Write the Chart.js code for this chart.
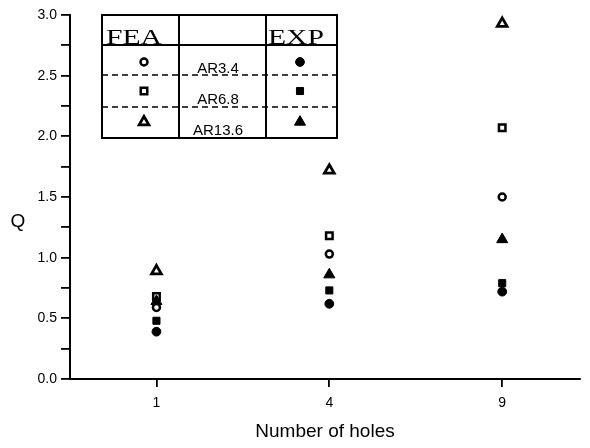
<!DOCTYPE html>
<html>
<head>
<meta charset="utf-8">
<script src="https://cdn.jsdelivr.net/npm/chart.js@4/dist/chart.umd.min.js"></script>
<style>
  html, body { margin: 0; padding: 0; background: #fff; }
  #wrap { width: 590px; height: 448px; }
</style>
</head>
<body>
<div id="wrap"><canvas id="chart" width="590" height="448"></canvas></div>
<script>
// 数据
const holeLabels = ['1', '4', '9'];
const holePos = [1, 2, 3];
const feaAR34 = [0.59, 1.03, 1.50];
const feaAR68 = [0.68, 1.18, 2.07];
const feaAR136 = [0.89, 1.72, 2.93];
const expAR34 = [0.39, 0.62, 0.72];
const expAR68 = [0.48, 0.73, 0.79];
const expAR136 = [0.64, 0.86, 1.15];
const yTicks = ['0.0', '0.5', '1.0', '1.5', '2.0', '2.5', '3.0'];
const legendRows = ['AR3.4', 'AR6.8', 'AR13.6'];

function pts(vals) {
    return vals.map((v, i) => ({ x: holePos[i], y: v }));
}

const sans = '"Liberation Sans", Arial, sans-serif';

// 标记样式
const markFEA34 = { pointStyle: 'circle', pointRadius: 3.5, backgroundColor: '#fff', borderColor: '#000', borderWidth: 2.5 };
const markFEA68 = { pointStyle: 'rect', pointRadius: 4.6, backgroundColor: '#fff', borderColor: '#000', borderWidth: 2.5 };
const markFEA136 = { pointStyle: 'triangle', pointRadius: 5.6, backgroundColor: '#fff', borderColor: '#000', borderWidth: 2.8 };
const markEXP34 = { pointStyle: 'circle', pointRadius: 4.4, backgroundColor: '#000', borderColor: '#000', borderWidth: 1 };
const markEXP68 = { pointStyle: 'rect', pointRadius: 5, backgroundColor: '#000', borderColor: '#000', borderWidth: 1 };
const markEXP136 = { pointStyle: 'triangle', pointRadius: 6.4, backgroundColor: '#000', borderColor: '#000', borderWidth: 1 };

// 图例表格 + 纵轴标题
const legendTable = {
    id: 'legendTable',
    afterDraw(chart) {
        const ctx = chart.ctx;
        const L = 102, R = 337, T = 15, B = 138;
        const c1 = 179, c2 = 266, hB = 45;
        ctx.save();
        ctx.strokeStyle = '#000';
        ctx.lineWidth = 2;
        ctx.strokeRect(L, T, R - L, B - T);
        ctx.beginPath();
        ctx.moveTo(c1, T); ctx.lineTo(c1, B);
        ctx.moveTo(c2, T); ctx.lineTo(c2, B);
        ctx.moveTo(L, hB); ctx.lineTo(R, hB);
        ctx.stroke();
        ctx.setLineDash([6, 4]);
        ctx.lineWidth = 1.6;
        ctx.beginPath();
        ctx.moveTo(L, 75); ctx.lineTo(R, 75);
        ctx.moveTo(L, 107); ctx.lineTo(R, 107);
        ctx.stroke();
        ctx.setLineDash([]);
        ctx.fillStyle = '#000';
        ctx.textAlign = 'center';
        ctx.textBaseline = 'alphabetic';
        ctx.font = '22px "Liberation Serif", "DejaVu Serif", serif';
        [['FEA', 134], ['EXP', 296]].forEach(([t, x]) => {
            ctx.save();
            ctx.translate(x, 44);
            ctx.scale(1.35, 1);
            ctx.fillText(t, 0, 0);
            ctx.restore();
        });
        ctx.font = '15px ' + sans;
        const baselines = [73, 104, 135];
        const centers = [62, 91, 122];
        const feaMarks = [markFEA34, markFEA68, markFEA136];
        const expMarks = [markEXP34, markEXP68, markEXP136];
        legendRows.forEach((t, i) => {
            ctx.fillStyle = '#000';
            ctx.fillText(t, 218, baselines[i]);
            [[feaMarks[i], 144], [expMarks[i], 300]].forEach(([m, x]) => {
                ctx.fillStyle = m.backgroundColor;
                ctx.strokeStyle = m.borderColor;
                ctx.lineWidth = m.borderWidth;
                Chart.helpers.drawPoint(ctx, { pointStyle: m.pointStyle, radius: m.pointRadius, rotation: 0, borderWidth: m.borderWidth }, x, centers[i]);
            });
        });
        // 纵轴标题 Q（不旋转）
        ctx.fillStyle = '#000';
        ctx.font = '19px ' + sans;
        ctx.textBaseline = 'middle';
        ctx.fillText('Q', 18, 222);
        ctx.restore();
    }
};

document.addEventListener('DOMContentLoaded', function () {
    const ctx = document.getElementById('chart').getContext('2d');
    new Chart(ctx, {
        type: 'scatter',
        data: {
            datasets: [
                Object.assign({ label: 'EXP AR3.4', data: pts(expAR34) }, markEXP34),
                Object.assign({ label: 'EXP AR6.8', data: pts(expAR68) }, markEXP68),
                Object.assign({ label: 'EXP AR13.6', data: pts(expAR136) }, markEXP136),
                Object.assign({ label: 'FEA AR3.4', data: pts(feaAR34) }, markFEA34),
                Object.assign({ label: 'FEA AR6.8', data: pts(feaAR68) }, markFEA68),
                Object.assign({ label: 'FEA AR13.6', data: pts(feaAR136) }, markFEA136)
            ]
        },
        options: {
            responsive: false,
            animation: false,
            layout: { padding: { left: 0, right: 10, top: 15, bottom: 0 } },
            scales: {
                x: {
                    type: 'linear',
                    min: 0.5,
                    max: 3.45,
                    afterBuildTicks(axis) {
                        axis.ticks = holePos.map(v => ({ value: v }));
                    },
                    afterFit(axis) { axis.height = 69; },
                    border: { display: true, color: '#000', width: 2 },
                    grid: { display: true, drawOnChartArea: false, color: '#000', lineWidth: 1.8, tickLength: 8 },
                    ticks: {
                        color: '#000',
                        padding: 8,
                        font: { family: sans, size: 14 },
                        callback: (v) => holeLabels[holePos.indexOf(v)] || ''
                    },
                    title: {
                        display: true,
                        text: 'Number of holes',
                        color: '#000',
                        padding: { top: 0, bottom: 5 },
                        font: { family: sans, size: 19 }
                    }
                },
                y: {
                    min: 0,
                    max: 3,
                    afterFit(axis) { axis.width = 70; },
                    afterBuildTicks(axis) {
                        const t = [];
                        for (let i = 0; i <= 12; i++) t.push({ value: i * 0.25 });
                        axis.ticks = t;
                    },
                    border: { display: true, color: '#000', width: 2 },
                    grid: { display: true, drawOnChartArea: false, color: '#000', lineWidth: 1.8, tickLength: 9 },
                    ticks: {
                        color: '#000',
                        padding: 4,
                        font: { family: sans, size: 14 },
                        callback: (v) => {
                            const i = Math.round(v / 0.5);
                            return Math.abs(v - i * 0.5) < 1e-6 ? yTicks[i] : '';
                        }
                    }
                }
            },
            plugins: {
                legend: { display: false },
                tooltip: { enabled: false }
            }
        },
        plugins: [legendTable]
    });
});
</script>
</body>
</html>
